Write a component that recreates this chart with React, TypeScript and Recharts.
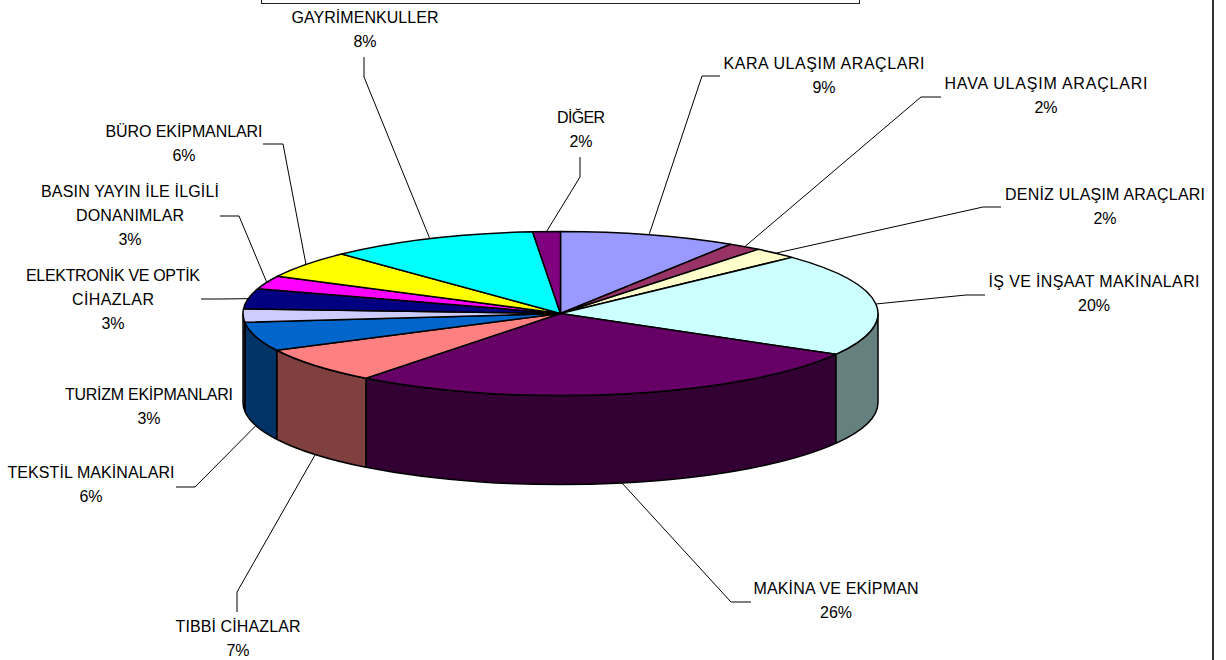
import { Pie, PieChart } from 'recharts';

const categories = [
  'KARA ULAŞIM ARAÇLARI',
  'HAVA ULAŞIM ARAÇLARI',
  'DENİZ ULAŞIM ARAÇLARI',
  'İŞ VE İNŞAAT MAKİNALARI',
  'MAKİNA VE EKİPMAN',
  'TIBBİ CİHAZLAR',
  'TEKSTİL MAKİNALARI',
  'TURİZM EKİPMANLARI',
  'ELEKTRONİK VE OPTİK|CİHAZLAR',
  'BASIN YAYIN İLE İLGİLİ|DONANIMLAR',
  'BÜRO EKİPMANLARI',
  'GAYRİMENKULLER',
  'DİĞER',
];
// slice shares as they are drawn in the picture
const shares = [9.0, 1.7, 2.3, 20.3, 27.2, 7.1, 5.7, 2.6, 4.0, 2.6, 5.4, 10.7, 1.4];
// percentages as printed on the labels
const percentLabels = ['9%', '2%', '2%', '20%', '26%', '7%', '6%', '3%', '3%', '3%', '6%', '8%', '2%'];
const colors = [
  '#9999FF', '#993366', '#FFFFCC', '#CCFFFF', '#660066', '#FF8080', '#0066CC',
  '#CCCCFF', '#000080', '#FF00FF', '#FFFF00', '#00FFFF', '#800080',
];
const wallColors = [
  '#4D4D80', '#4D1A33', '#808066', '#668080', '#330033', '#804040', '#003366',
  '#666680', '#000040', '#800080', '#808000', '#008080', '#400040',
];

// label placement: text centre, first baseline, line widths, leader bend and end
const labelLayout = [
  { x: 824, y: 69, widths: [201], leader: [[702, 76], [720, 76]] },
  { x: 1046, y: 89, widths: [203], leader: [[921, 97], [941, 97]] },
  { x: 1105, y: 200, widths: [200], leader: [[983, 207], [1001, 207]] },
  { x: 1094, y: 287, widths: [211], leader: [[966, 295], [985, 295]] },
  { x: 836, y: 594, widths: [165], leader: [[731, 602], [751, 602]] },
  { x: 238, y: 632, widths: [125], leader: [[237, 592], [237, 612]] },
  { x: 91, y: 478, widths: [167], leader: [[195, 487], [176, 487]] },
  { x: 149, y: 400, widths: [168], leader: [] },
  { x: 113, y: 281, widths: [174, 82], leader: [[220, 299], [201, 299]] },
  { x: 130, y: 197, widths: [178, 108], leader: [[239, 216], [220, 216]] },
  { x: 184, y: 137, widths: [157], leader: [[283, 144], [263, 144]] },
  { x: 365, y: 23, widths: [147], leader: [[364, 77], [364, 57]] },
  { x: 581, y: 123, widths: [48], leader: [[580, 177], [580, 157]] },
];

const tableData = categories.map((name, i) => ({
  name,
  value: shares[i],
  fill: colors[i],
  wall: wallColors[i],
}));

const CX = 560.5;
const CY = 313.5;
const RX = 317.5;
const RY = 82;
const DEPTH = 89;
const LINE = 24;

const RAD = Math.PI / 180;
const px = (a: number) => CX + RX * Math.cos(a * RAD);
const py = (a: number) => CY - RY * Math.sin(a * RAD);

// flattened top of a slice, angles come from the Pie
function TopSlice(props: any) {
  const { startAngle, endAngle, fill } = props;
  const large = Math.abs(startAngle - endAngle) > 180 ? 1 : 0;
  const d = `M${CX},${CY} L${px(startAngle)},${py(startAngle)} A${RX},${RY} 0 ${large} 1 ${px(endAngle)},${py(endAngle)} Z`;
  return <path d={d} fill={fill} stroke="#000" strokeWidth={1.5} strokeLinejoin="round" />;
}

// front wall of a slice, only the part below the ellipse's middle shows
function WallSlice(props: any) {
  const { startAngle, endAngle, payload } = props;
  const hi = Math.min(startAngle, 0);
  const lo = Math.max(endAngle, -180);
  if (hi <= lo) return null;
  const fill = payload?.wall ?? props.wall;
  const d =
    `M${px(hi)},${py(hi)} A${RX},${RY} 0 0 1 ${px(lo)},${py(lo)} ` +
    `L${px(lo)},${py(lo) + DEPTH} A${RX},${RY} 0 0 0 ${px(hi)},${py(hi) + DEPTH} Z`;
  return <path d={d} fill={fill} stroke="#000" strokeWidth={1.5} strokeLinejoin="round" />;
}

function SliceLabel(props: any) {
  const { index, midAngle } = props;
  const layout = labelLayout[index];
  const lines = categories[index].split('|');
  let leader = null;
  if (layout.leader.length) {
    const sx = px(midAngle);
    const onWall = Math.sin(midAngle * RAD) < 0;
    const sy = py(midAngle) + (onWall ? DEPTH : 0);
    const pts = [[sx, sy], ...layout.leader].map((p) => p.join(',')).join(' ');
    leader = <polyline points={pts} fill="none" stroke="#000" strokeWidth={1} />;
  }
  return (
    <g>
      {leader}
      {lines.map((line, i) => (
        <text
          key={line}
          x={layout.x}
          y={layout.y + i * LINE}
          textAnchor="middle"
          textLength={layout.widths[i]}
          lengthAdjust="spacing"
          fontFamily="'Liberation Sans', Arial, sans-serif"
          fontSize={16}
          fill="#000"
        >
          {line}
        </text>
      ))}
      <text
        x={layout.x}
        y={layout.y + lines.length * LINE}
        textAnchor="middle"
        fontFamily="'Liberation Sans', Arial, sans-serif"
        fontSize={16}
        fill="#000"
      >
        {percentLabels[index]}
      </text>
    </g>
  );
}

export default function App() {
  return (
    <div style={{ position: 'absolute', left: 0, top: 0, width: 1226, height: 660, background: '#fff', overflow: 'hidden' }}>
      {/* box cut off by the top of the picture */}
      <div style={{ position: 'absolute', left: 261, top: -2, width: 597, height: 4, border: '1px solid #222' }} />
      {/* right frame line */}
      <div style={{ position: 'absolute', left: 1212, top: 0, width: 2, height: 660, background: '#333' }} />
      <PieChart width={1226} height={660} margin={{ top: 0, right: 0, bottom: 0, left: 0 }} style={{ position: 'absolute', left: 0, top: 0 }}>
        <Pie
          data={tableData}
          dataKey="value"
          nameKey="name"
          cx={CX}
          cy={CY}
          outerRadius={RX}
          startAngle={90}
          endAngle={-270}
          shape={WallSlice}
          label={false}
          labelLine={false}
          isAnimationActive={false}
        />
        <Pie
          data={tableData}
          dataKey="value"
          nameKey="name"
          cx={CX}
          cy={CY}
          outerRadius={RX}
          startAngle={90}
          endAngle={-270}
          shape={TopSlice}
          label={SliceLabel}
          labelLine={false}
          isAnimationActive={false}
        />
      </PieChart>
    </div>
  );
}
